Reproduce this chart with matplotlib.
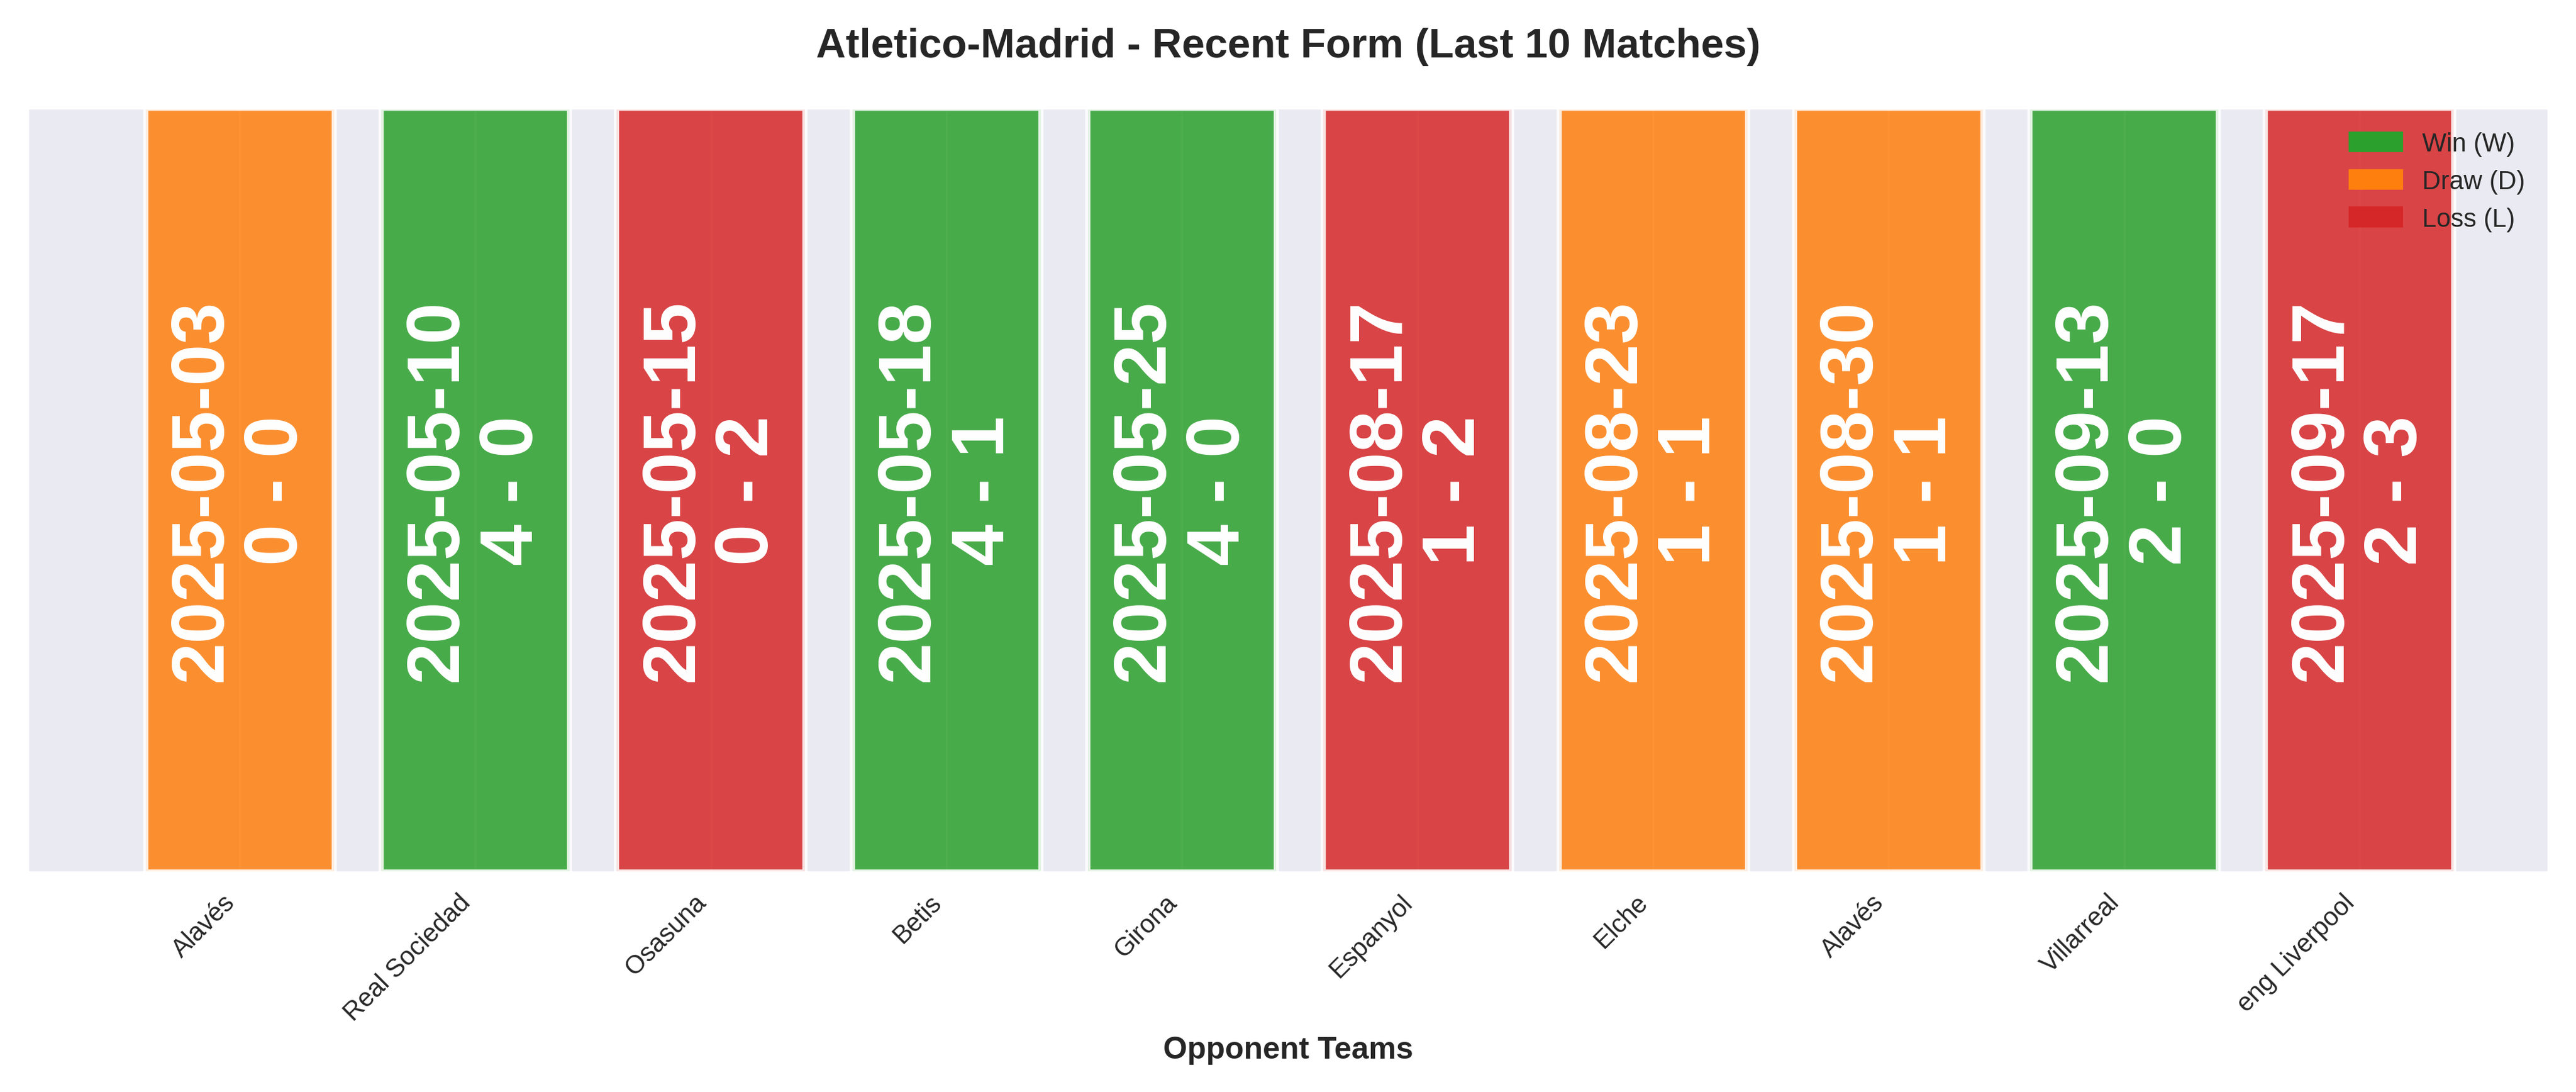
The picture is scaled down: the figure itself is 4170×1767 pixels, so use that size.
import matplotlib.pyplot as plt
import seaborn as sns
from matplotlib.patches import Patch

opponents = ["Alavés", "Real Sociedad", "Osasuna", "Betis", "Girona",
             "Espanyol", "Elche", "Alavés", "Villarreal", "eng Liverpool"]
dates = ["2025-05-03", "2025-05-10", "2025-05-15", "2025-05-18", "2025-05-25",
         "2025-08-17", "2025-08-23", "2025-08-30", "2025-09-13", "2025-09-17"]
scores = ["0 - 0", "4 - 0", "0 - 2", "4 - 1", "4 - 0",
          "1 - 2", "1 - 1", "1 - 1", "2 - 0", "2 - 3"]
results = ["D", "W", "L", "W", "W", "L", "D", "D", "W", "L"]

colors = {"W": "#2ca02c", "D": "#ff7f0e", "L": "#d62728"}

sns.set_style("darkgrid")
plt.rcParams['font.family'] = ['Liberation Sans', 'DejaVu Sans']
fig, ax = plt.subplots(figsize=(13.9, 5.893), dpi=300)

x = list(range(len(opponents)))
bar_colors = [colors[r] for r in results]
ax.bar(x, [1] * len(x), width=0.8, color=bar_colors, alpha=0.85,
       edgecolor="white", linewidth=2)

for i in x:
    ax.text(i, 0.5, dates[i] + "\n" + scores[i], rotation=90, ha="center",
            va="center", color="white", fontsize=29, fontweight="bold",
            linespacing=1.1)

ax.set_xticks(x)
ax.set_xticklabels(opponents, rotation=45, ha="right", fontsize=10)
ax.set_yticks([])
ax.set_ylim(0, 1)
ax.set_xlim(-0.9, 9.8)
ax.set_xlabel("Opponent Teams", fontsize=12, fontweight="bold")
ax.set_title("Atletico-Madrid - Recent Form (Last 10 Matches)",
             fontsize=16, fontweight="bold", pad=20)

handles = [Patch(color=colors["W"], label="Win (W)"),
           Patch(color=colors["D"], label="Draw (D)"),
           Patch(color=colors["L"], label="Loss (L)")]
ax.legend(handles=handles, loc="upper right", fontsize=10, frameon=False)

plt.tight_layout()
plt.savefig("out.png", dpi=300)
